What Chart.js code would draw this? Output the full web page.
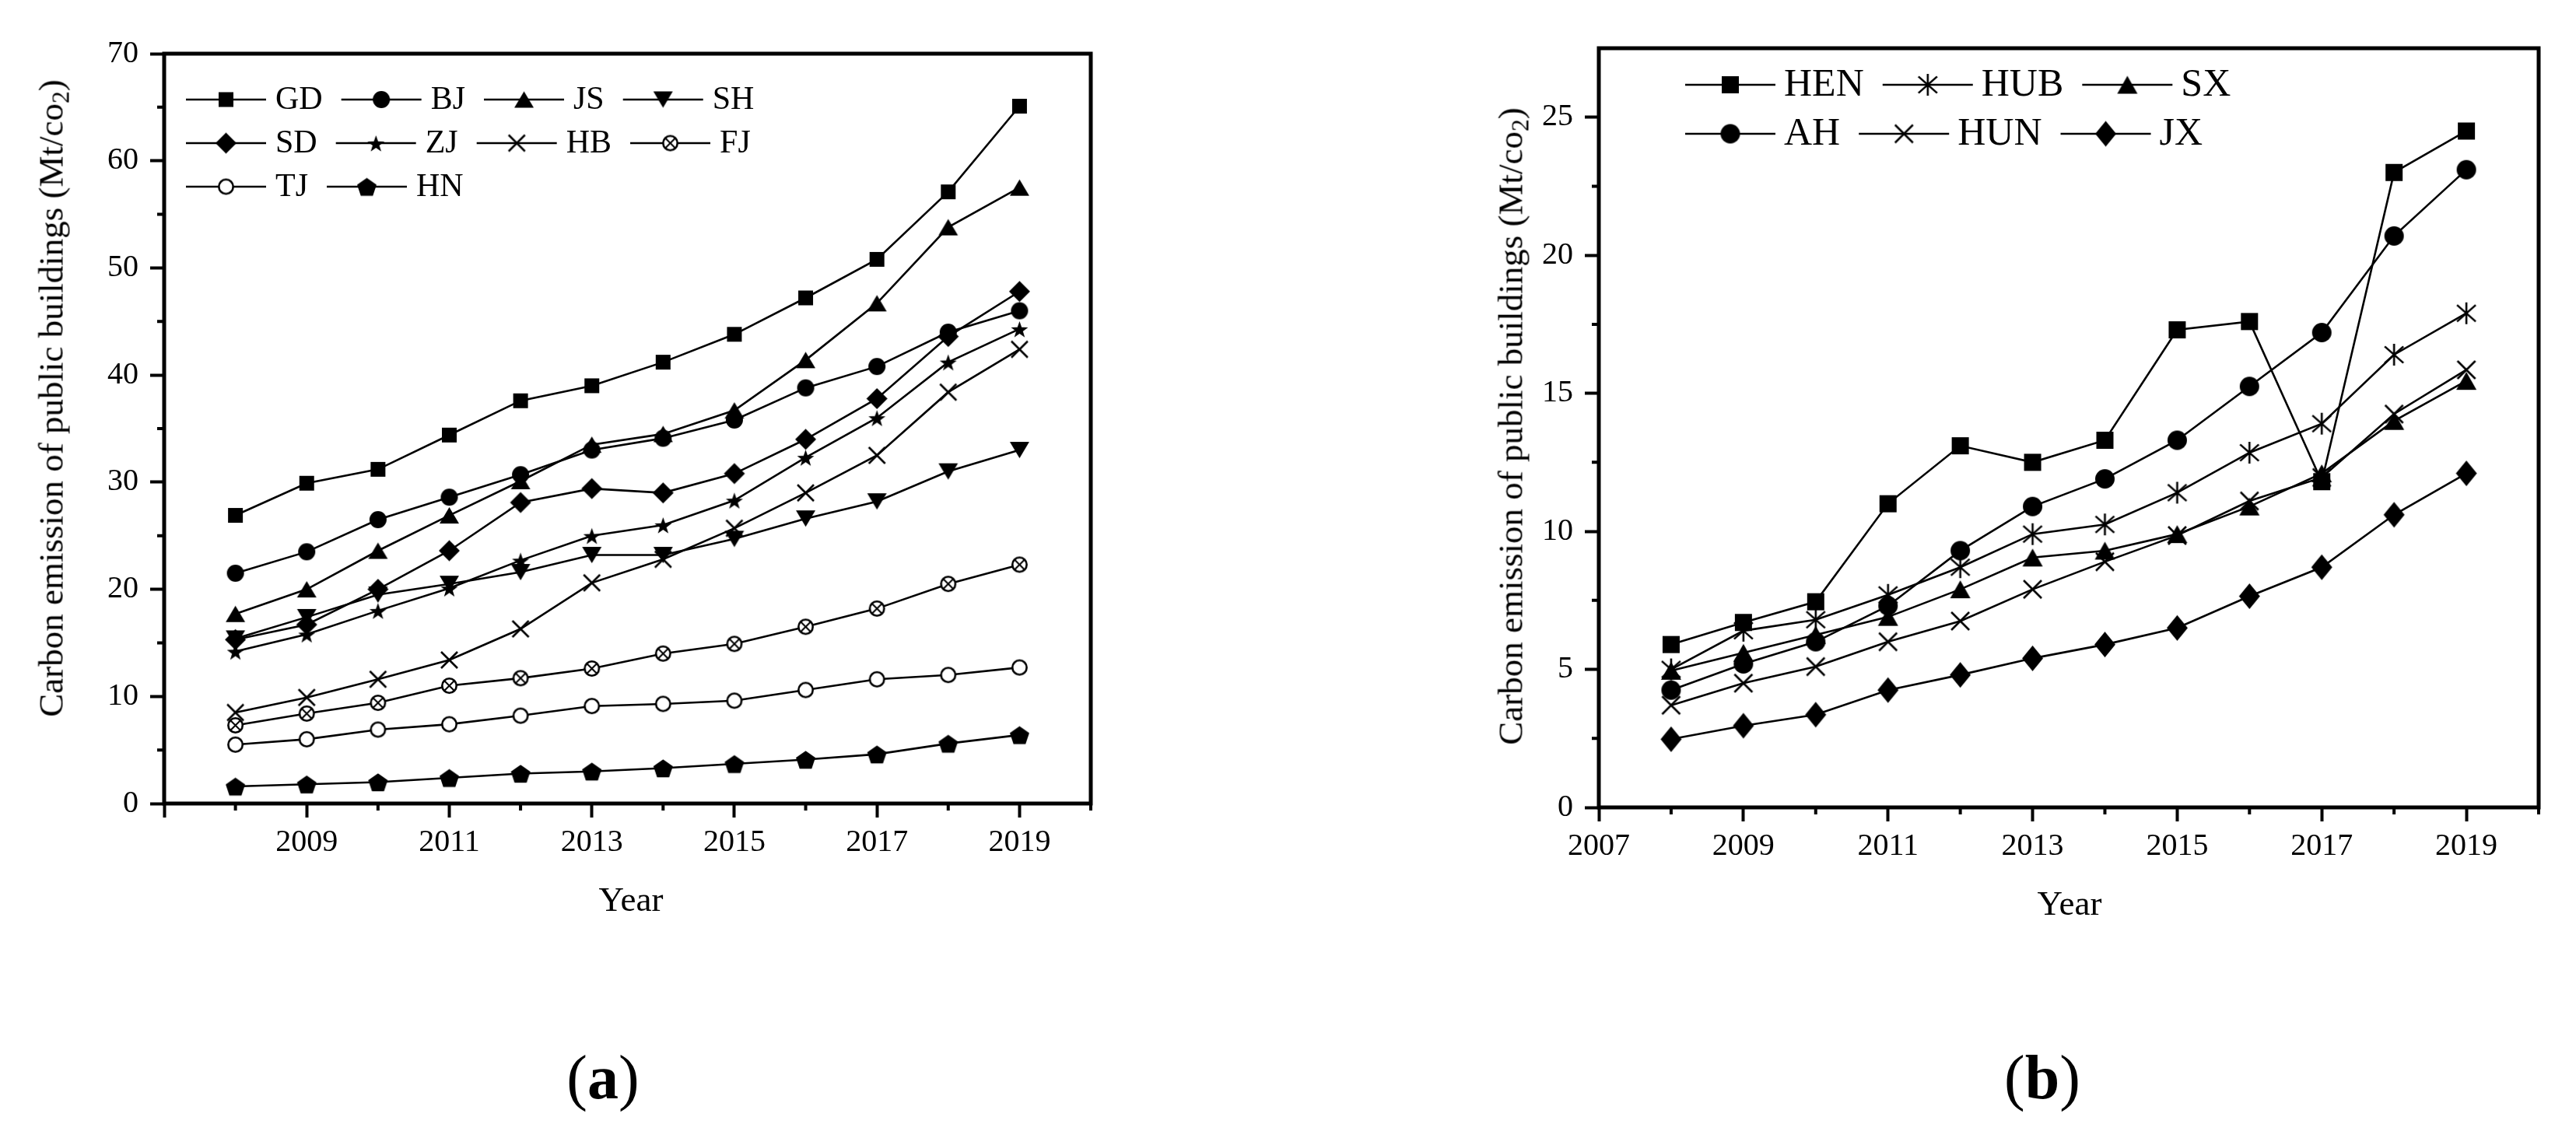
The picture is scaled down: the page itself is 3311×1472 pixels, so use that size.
<!DOCTYPE html>
<html>
<head>
<meta charset="utf-8">
<script src="https://cdn.jsdelivr.net/npm/chart.js@4.4.1/dist/chart.umd.min.js"></script>
<style>
  body { margin: 0; width: 3311px; height: 1472px; background: #fff; position: relative; overflow: hidden;
         font-family: "Liberation Serif", "Times New Roman", serif; color: #000; }
  canvas { position: absolute; top: 0; }
  .lbl { position: absolute; white-space: nowrap; line-height: 1; transform: translate(-50%, -50%); }
  .ytitle { font-size: 45px; transform: translate(-50%, -50%) rotate(-90deg); }
  .ytitle sub { font-size: 0.7em; vertical-align: -0.25em; line-height: 0; }
  .xtitle { font-size: 45px; }
  .panel { font-size: 80px; }
  .panel b { font-weight: bold; }
</style>
</head>
<body>
<canvas id="chartA" width="1656" height="1140" style="left:0px"></canvas>
<canvas id="chartB" width="1655" height="1140" style="left:1656px"></canvas>

<div class="lbl ytitle" style="left:66px; top:512px">Carbon emission of public buildings (Mt/co<sub>2</sub>)</div>
<div class="lbl ytitle" style="left:1942px; top:548px">Carbon emission of public buildings (Mt/co<sub>2</sub>)</div>
<div class="lbl xtitle" style="left:811px; top:1156px">Year</div>
<div class="lbl xtitle" style="left:2660px; top:1161px">Year</div>
<div class="lbl panel" style="left:775px; top:1385px">(<b>a</b>)</div>
<div class="lbl panel" style="left:2625px; top:1385px">(<b>b</b>)</div>

<script>
// ---- data ----
const years = [2008, 2009, 2010, 2011, 2012, 2013, 2014, 2015, 2016, 2017, 2018, 2019];

// panel (a)
const GD = [26.9, 29.9, 31.2, 34.4, 37.6, 39.0, 41.2, 43.8, 47.2, 50.8, 57.1, 65.1];
const BJ = [21.5, 23.5, 26.5, 28.6, 30.7, 33.0, 34.1, 35.8, 38.8, 40.8, 44.0, 46.0];
const JS = [17.7, 20.0, 23.6, 26.9, 30.1, 33.5, 34.5, 36.7, 41.4, 46.7, 53.8, 57.5];
const SH = [15.4, 17.4, 19.5, 20.5, 21.6, 23.2, 23.2, 24.7, 26.6, 28.2, 31.0, 33.0];
const SD = [15.3, 16.7, 20.0, 23.6, 28.1, 29.4, 29.0, 30.8, 34.0, 37.8, 43.6, 47.8];
const ZJ = [14.2, 15.8, 18.0, 20.1, 22.7, 25.0, 26.0, 28.3, 32.3, 36.0, 41.2, 44.3];
const HB = [8.5, 9.9, 11.6, 13.4, 16.3, 20.6, 22.8, 25.7, 29.0, 32.5, 38.4, 42.4];
const FJ = [7.3, 8.4, 9.4, 11.0, 11.7, 12.6, 14.0, 14.9, 16.5, 18.2, 20.5, 22.3];
const TJ = [5.5, 6.0, 6.9, 7.4, 8.2, 9.1, 9.3, 9.6, 10.6, 11.6, 12.0, 12.7];
const HN = [1.6, 1.8, 2.0, 2.4, 2.8, 3.0, 3.3, 3.7, 4.1, 4.6, 5.6, 6.4];

// panel (b)
const HEN = [5.9, 6.7, 7.45, 11.0, 13.1, 12.5, 13.3, 17.3, 17.6, 11.8, 23.0, 24.5];
const HUB = [5.0, 6.4, 6.8, 7.7, 8.7, 9.9, 10.25, 11.4, 12.85, 13.9, 16.4, 17.9];
const SX  = [4.95, 5.6, 6.25, 6.9, 7.9, 9.05, 9.3, 9.9, 10.9, 12.1, 14.0, 15.45];
const AH  = [4.25, 5.2, 6.0, 7.3, 9.3, 10.9, 11.9, 13.3, 15.25, 17.2, 20.7, 23.1];
const HUN = [3.7, 4.5, 5.1, 6.0, 6.75, 7.9, 8.9, 9.85, 11.1, 11.95, 14.25, 15.85];
const JX  = [2.47, 2.96, 3.36, 4.25, 4.8, 5.4, 5.9, 6.5, 7.65, 8.7, 10.6, 12.1];

// axes
const xMajor = [2007, 2009, 2011, 2013, 2015, 2017, 2019];
const xMinor = [2008, 2010, 2012, 2014, 2016, 2018, 2020];
const xLabelsA = [2009, 2011, 2013, 2015, 2017, 2019];
const xLabelsB = [2007, 2009, 2011, 2013, 2015, 2017, 2019];
const yMajorA = [0, 10, 20, 30, 40, 50, 60, 70];
const yMinorA = [5, 15, 25, 35, 45, 55, 65];
const yMajorB = [0, 5, 10, 15, 20, 25];
const yMinorB = [2.5, 7.5, 12.5, 17.5, 22.5];

// ---- marker glyphs ----
function marker(kind, w, h) {
    const lw = 2.6, pad = 3;
    const c = document.createElement('canvas');
    c.width = Math.ceil(w + pad * 2);
    c.height = Math.ceil(h + pad * 2);
    const g = c.getContext('2d');
    const cx = c.width / 2, cy = c.height / 2;
    g.fillStyle = '#000';
    g.strokeStyle = '#000';
    g.lineWidth = lw;
    g.beginPath();
    if (kind === 'square') {
        g.rect(cx - w / 2, cy - h / 2, w, h);
        g.fill();
    } else if (kind === 'circle') {
        g.ellipse(cx, cy, w / 2, h / 2, 0, 0, Math.PI * 2);
        g.fill();
    } else if (kind === 'triangle') {
        g.moveTo(cx, cy - h / 2); g.lineTo(cx + w / 2, cy + h / 2); g.lineTo(cx - w / 2, cy + h / 2);
        g.closePath(); g.fill();
    } else if (kind === 'triangleDown') {
        g.moveTo(cx, cy + h / 2); g.lineTo(cx + w / 2, cy - h / 2); g.lineTo(cx - w / 2, cy - h / 2);
        g.closePath(); g.fill();
    } else if (kind === 'diamond') {
        g.moveTo(cx, cy - h / 2); g.lineTo(cx + w / 2, cy); g.lineTo(cx, cy + h / 2); g.lineTo(cx - w / 2, cy);
        g.closePath(); g.fill();
    } else if (kind === 'star') {
        for (let i = 0; i < 10; i++) {
            const r = i % 2 ? w * 0.2 : w / 2;
            const a = -Math.PI / 2 + i * Math.PI / 5;
            g.lineTo(cx + r * Math.cos(a), cy + 1.5 + r * Math.sin(a));
        }
        g.closePath(); g.fill();
    } else if (kind === 'pentagon') {
        const R = w / 1.902;
        for (let i = 0; i < 5; i++) {
            const a = -Math.PI / 2 + i * 2 * Math.PI / 5;
            g.lineTo(cx + R * Math.cos(a), cy + 1.5 + R * Math.sin(a) * (h / (1.809 * R)));
        }
        g.closePath(); g.fill();
    } else if (kind === 'cross') {
        g.moveTo(cx - w / 2, cy - h / 2); g.lineTo(cx + w / 2, cy + h / 2);
        g.moveTo(cx - w / 2, cy + h / 2); g.lineTo(cx + w / 2, cy - h / 2);
        g.stroke();
    } else if (kind === 'asterisk') {
        g.moveTo(cx, cy - h / 2); g.lineTo(cx, cy + h / 2);
        g.moveTo(cx - w / 2, cy - h * 0.38); g.lineTo(cx + w / 2, cy + h * 0.38);
        g.moveTo(cx - w / 2, cy + h * 0.38); g.lineTo(cx + w / 2, cy - h * 0.38);
        g.stroke();
    } else if (kind === 'openCircle' || kind === 'circleX') {
        g.fillStyle = '#fff';
        g.ellipse(cx, cy, w / 2 - lw / 2, h / 2 - lw / 2, 0, 0, Math.PI * 2);
        g.fill(); g.stroke();
        if (kind === 'circleX') {
            const d = (w / 2) * 0.62;
            g.beginPath();
            g.lineWidth = 2;
            g.moveTo(cx - d, cy - d); g.lineTo(cx + d, cy + d);
            g.moveTo(cx - d, cy + d); g.lineTo(cx + d, cy - d);
            g.stroke();
        }
    }
    return c;
}

function series(label, values, style) {
    return {
        label: label,
        data: years.map((yr, i) => ({ x: yr, y: values[i] })),
        borderColor: '#000',
        backgroundColor: '#000',
        borderWidth: 2.6,
        tension: 0,
        fill: false,
        pointStyle: style,
        pointRadius: 10,
        pointHoverRadius: 10
    };
}

// legend with a line through the marker, entries laid out in rows
const lineLegend = {
    id: 'lineLegend',
    afterDraw(chart, args, opts) {
        const ctx = chart.ctx;
        ctx.save();
        ctx.font = opts.font;
        ctx.fillStyle = '#000';
        ctx.strokeStyle = '#000';
        ctx.lineWidth = 2.6;
        ctx.textBaseline = 'middle';
        ctx.textAlign = 'left';
        let x = opts.x;
        chart.data.datasets.forEach((ds, i) => {
            if (i % opts.perRow === 0) x = opts.x;
            const y = opts.rows[Math.floor(i / opts.perRow)];
            ctx.beginPath();
            ctx.moveTo(x, y);
            ctx.lineTo(x + opts.lineLen, y);
            ctx.stroke();
            const m = ds.pointStyle;
            ctx.drawImage(m, x + opts.lineLen / 2 - m.width / 2, y - m.height / 2);
            const tx = x + opts.lineLen + opts.gap;
            ctx.fillText(ds.label, tx, y + 1);
            x = tx + ctx.measureText(ds.label).width + opts.itemGap;
        });
        ctx.restore();
    }
};

// frame and minor ticks
const frameTicks = {
    id: 'frameTicks',
    afterDraw(chart, args, opts) {
        const ctx = chart.ctx;
        const a = chart.chartArea;
        const xs = chart.scales.x, ys = chart.scales.y;
        ctx.save();
        ctx.strokeStyle = '#000';
        ctx.lineWidth = 4;
        ctx.beginPath();
        opts.xMinor.forEach(v => {
            const px = xs.getPixelForValue(v);
            ctx.moveTo(px, a.bottom); ctx.lineTo(px, a.bottom + 9);
        });
        opts.yMinor.forEach(v => {
            const py = ys.getPixelForValue(v);
            ctx.moveTo(a.left, py); ctx.lineTo(a.left - 9, py);
        });
        ctx.stroke();
        ctx.lineWidth = 5;
        ctx.strokeRect(a.left, a.top, a.right - a.left, a.bottom - a.top);
        ctx.restore();
    }
};

const tickFont = { family: '"Liberation Serif", "Times New Roman", serif', size: 40 };

function makeChart(id, datasets, cfg) {
    return new Chart(document.getElementById(id), {
        type: 'line',
        data: { datasets: datasets },
        options: {
            responsive: false,
            animation: false,
            devicePixelRatio: 1,
            events: [],
            layout: { padding: { top: cfg.top, right: cfg.right, left: 0, bottom: 0 } },
            plugins: {
                legend: { display: false },
                tooltip: { enabled: false },
                lineLegend: cfg.legend,
                frameTicks: { xMinor: xMinor, yMinor: cfg.yMinor }
            },
            scales: {
                x: {
                    type: 'linear',
                    min: 2007,
                    max: 2020,
                    afterBuildTicks: s => { s.ticks = xMajor.map(v => ({ value: v })); },
                    afterFit: s => { s.height = cfg.xHeight; },
                    ticks: {
                        font: tickFont,
                        color: '#000',
                        padding: 8,
                        maxRotation: 0,
                        autoSkip: false,
                        callback: v => cfg.xLabels.includes(v) ? String(v) : ''
                    },
                    grid: { drawOnChartArea: false, tickLength: 18, tickWidth: 4, tickColor: '#000', color: '#000' },
                    border: { display: false }
                },
                y: {
                    type: 'linear',
                    min: 0,
                    max: cfg.yMax,
                    afterBuildTicks: s => { s.ticks = cfg.yMajor.map(v => ({ value: v })); },
                    afterFit: s => { s.width = cfg.yWidth; },
                    ticks: {
                        font: tickFont,
                        color: '#000',
                        padding: 15,
                        autoSkip: false,
                        callback: v => String(v)
                    },
                    grid: { drawOnChartArea: false, tickLength: 18, tickWidth: 4, tickColor: '#000', color: '#000' },
                    border: { display: false }
                }
            }
        },
        plugins: [lineLegend, frameTicks]
    });
}

document.addEventListener('DOMContentLoaded', function () {
    const dsA = [
        series('GD', GD, marker('square', 19, 19)),
        series('BJ', BJ, marker('circle', 22, 22)),
        series('JS', JS, marker('triangle', 25, 21)),
        series('SH', SH, marker('triangleDown', 25, 21)),
        series('SD', SD, marker('diamond', 27, 27)),
        series('ZJ', ZJ, marker('star', 23, 22)),
        series('HB', HB, marker('cross', 21, 21)),
        series('FJ', FJ, marker('circleX', 21, 21)),
        series('TJ', TJ, marker('openCircle', 21, 21)),
        series('HN', HN, marker('pentagon', 25, 23))
    ];
    const dsB = [
        series('HEN', HEN, marker('square', 22, 22)),
        series('HUB', HUB, marker('asterisk', 24, 28)),
        series('SX', SX, marker('triangle', 26, 23)),
        series('AH', AH, marker('circle', 25, 25)),
        series('HUN', HUN, marker('cross', 23, 23)),
        series('JX', JX, marker('diamond', 27, 33))
    ];

    makeChart('chartA', dsA, {
        top: 69, right: 254, yWidth: 211, xHeight: 107, yMax: 70,
        yMajor: yMajorA, yMinor: yMinorA, xLabels: xLabelsA,
        legend: { x: 239, rows: [128, 184, 240], perRow: 4, lineLen: 103, gap: 12, itemGap: 24,
                  font: '42px "Liberation Serif", "Times New Roman", serif' }
    });
    makeChart('chartB', dsB, {
        top: 62, right: 48, yWidth: 399, xHeight: 102, yMax: 27.5,
        yMajor: yMajorB, yMinor: yMinorB, xLabels: xLabelsB,
        legend: { x: 510, rows: [109, 172], perRow: 3, lineLen: 116, gap: 11, itemGap: 24,
                  font: '50px "Liberation Serif", "Times New Roman", serif' }
    });
});
</script>
</body>
</html>
